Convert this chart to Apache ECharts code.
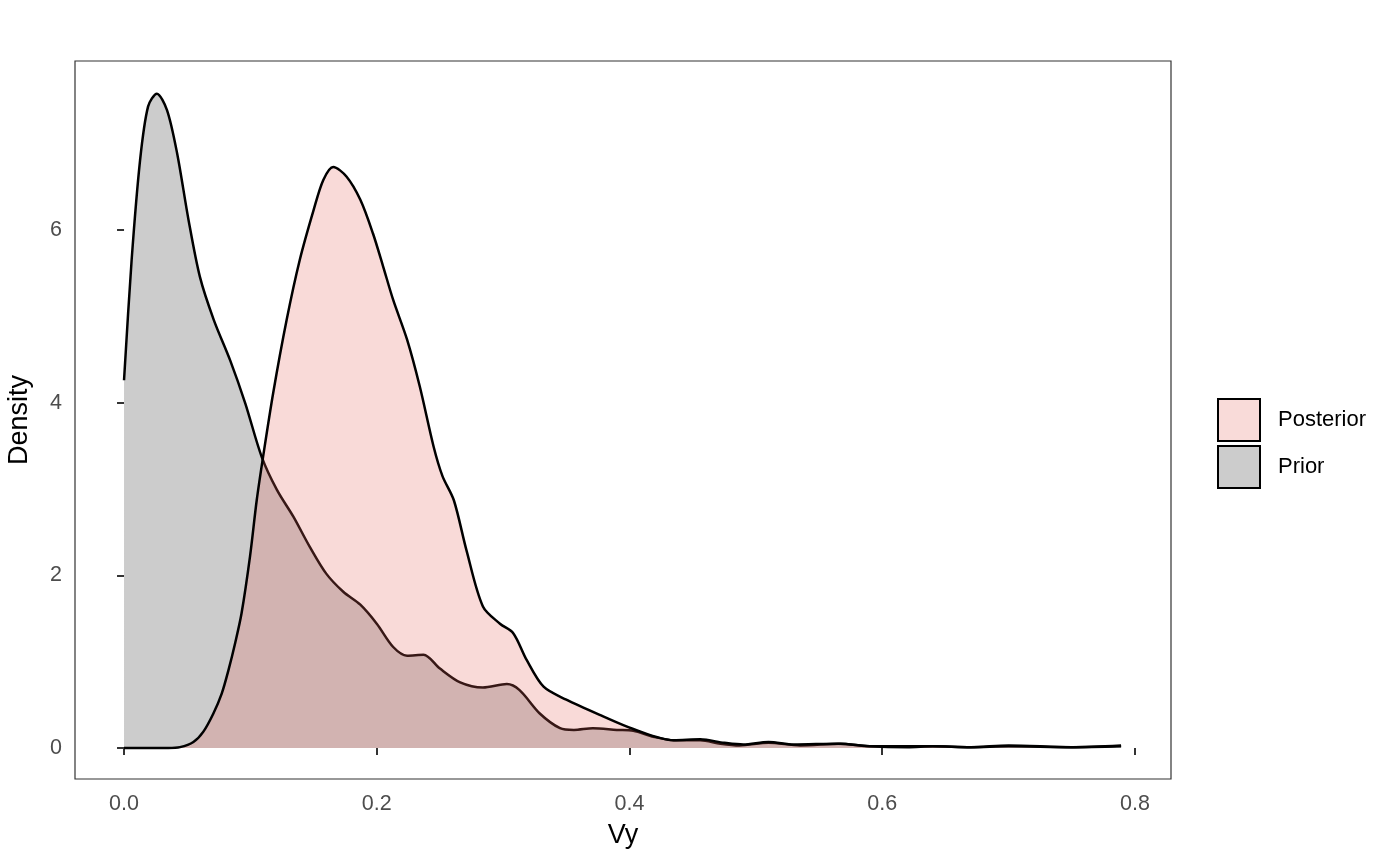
<!DOCTYPE html>
<html>
<head>
<meta charset="utf-8">
<script src="https://cdn.jsdelivr.net/npm/echarts@6/dist/echarts.min.js"></script>
<style>html,body{margin:0;padding:0;background:#fff}#chart{width:1400px;height:865px}</style>
</head>
<body>
<div id="chart"></div>
<script>
const seriesNames = ['Posterior', 'Prior'];
const xTicks = [0, 0.2, 0.4, 0.6, 0.8];
const yTicks = [0, 2, 4, 6];

const priorData = [
  [0.0, 4.26], [0.006, 5.65], [0.0127, 6.81], [0.019, 7.43], [0.026, 7.58], [0.034, 7.39],
  [0.042, 6.89], [0.051, 6.12], [0.060, 5.46], [0.071, 4.96], [0.084, 4.49], [0.096, 3.99],
  [0.109, 3.37], [0.121, 2.99], [0.134, 2.68], [0.147, 2.33], [0.160, 2.02], [0.1735, 1.81],
  [0.187, 1.66], [0.200, 1.44], [0.213, 1.17], [0.224, 1.07], [0.237, 1.08], [0.250, 0.92],
  [0.266, 0.76], [0.284, 0.70], [0.303, 0.74], [0.313, 0.67], [0.329, 0.40], [0.345, 0.23],
  [0.356, 0.21], [0.371, 0.23], [0.390, 0.21], [0.403, 0.20], [0.419, 0.13], [0.435, 0.09],
  [0.456, 0.09], [0.472, 0.05], [0.487, 0.03], [0.510, 0.06], [0.535, 0.03], [0.567, 0.05],
  [0.590, 0.02], [0.640, 0.02], [0.670, 0.01], [0.700, 0.03], [0.750, 0.01], [0.789, 0.03]
];

const posteriorData = [
  [0.0, 0.0], [0.02, 0.0], [0.035, 0.0], [0.0443, 0.01], [0.0549, 0.07], [0.0628, 0.19],
  [0.0707, 0.40], [0.0773, 0.63], [0.0826, 0.90], [0.088, 1.22], [0.093, 1.56], [0.0997, 2.22],
  [0.105, 2.87], [0.110, 3.37], [0.118, 4.11], [0.1287, 4.96], [0.139, 5.65], [0.150, 6.23],
  [0.1577, 6.58], [0.1656, 6.73], [0.176, 6.62], [0.187, 6.35], [0.197, 5.96], [0.205, 5.58],
  [0.213, 5.19], [0.224, 4.73], [0.234, 4.19], [0.245, 3.49], [0.252, 3.15], [0.261, 2.87],
  [0.271, 2.29], [0.284, 1.64], [0.2975, 1.44], [0.308, 1.33], [0.3186, 1.02], [0.332, 0.71],
  [0.350, 0.56], [0.377, 0.38], [0.403, 0.22], [0.435, 0.09], [0.456, 0.10], [0.475, 0.06],
  [0.490, 0.04], [0.510, 0.07], [0.530, 0.04], [0.565, 0.05], [0.590, 0.02], [0.620, 0.01],
  [0.640, 0.02], [0.670, 0.01], [0.700, 0.02], [0.750, 0.01], [0.789, 0.02]
];

const FONT = '"Liberation Sans", Arial, sans-serif';
const chart = echarts.init(document.getElementById('chart'), null, {renderer: 'canvas'});
chart.setOption({
  animation: false,
  backgroundColor: '#ffffff',
  grid: {
    left: 75, top: 61, width: 1096, height: 718,
    containLabel: false, outerBoundsMode: 'none',
    show: true, borderColor: '#333333', borderWidth: 1.2, backgroundColor: 'transparent'
  },
  legend: {
    orient: 'vertical', left: 1217, top: 398, padding: 0,
    itemWidth: 42, itemHeight: 42, itemGap: 3,
    textStyle: {fontFamily: FONT, fontSize: 22, color: '#000', padding: [0, 0, 0, 13]},
    data: [
      {name: 'Posterior', icon: 'rect', itemStyle: {color: '#F9DBD9', borderColor: '#000', borderWidth: 2}},
      {name: 'Prior', icon: 'rect', itemStyle: {color: '#CCCCCC', borderColor: '#000', borderWidth: 2}}
    ]
  },
  xAxis: {
    type: 'value', min: -0.0388, max: 0.8285,
    name: 'Vy', nameLocation: 'middle', nameGap: 43,
    nameTextStyle: {fontFamily: FONT, fontSize: 27, color: '#000'},
    axisLine: {show: false},
    splitLine: {show: false},
    axisTick: {show: true, length: 7, lineStyle: {color: '#333333', width: 2}, customValues: xTicks},
    axisLabel: {customValues: xTicks, fontFamily: FONT, fontSize: 21.5, color: '#4D4D4D', margin: 14,
      formatter: v => v.toFixed(1)}
  },
  yAxis: {
    type: 'value', min: -0.359, max: 7.958,
    name: 'Density', nameLocation: 'middle', nameGap: 42,
    nameTextStyle: {fontFamily: FONT, fontSize: 27, color: '#000'},
    axisLine: {show: false},
    splitLine: {show: false},
    axisTick: {show: true, length: 7, lineStyle: {color: '#333333', width: 2}, customValues: yTicks},
    axisLabel: {customValues: yTicks, fontFamily: FONT, fontSize: 21.5, color: '#4D4D4D', margin: 13}
  },
  series: [
    {
      name: 'Prior', type: 'line', data: priorData, smooth: 0.3, symbol: 'none',
      lineStyle: {color: '#000', width: 2.5},
      itemStyle: {color: '#CCCCCC'},
      areaStyle: {color: '#CCCCCC', opacity: 1, origin: 0},
      z: 2
    },
    {
      name: 'Posterior', type: 'line', data: posteriorData, smooth: 0.3, symbol: 'none',
      lineStyle: {color: '#000', width: 2.5},
      itemStyle: {color: '#F9DBD9'},
      areaStyle: {color: 'rgba(232,100,92,0.24)', opacity: 1, origin: 0},
      z: 3
    }
  ]
});
</script>
</body>
</html>
